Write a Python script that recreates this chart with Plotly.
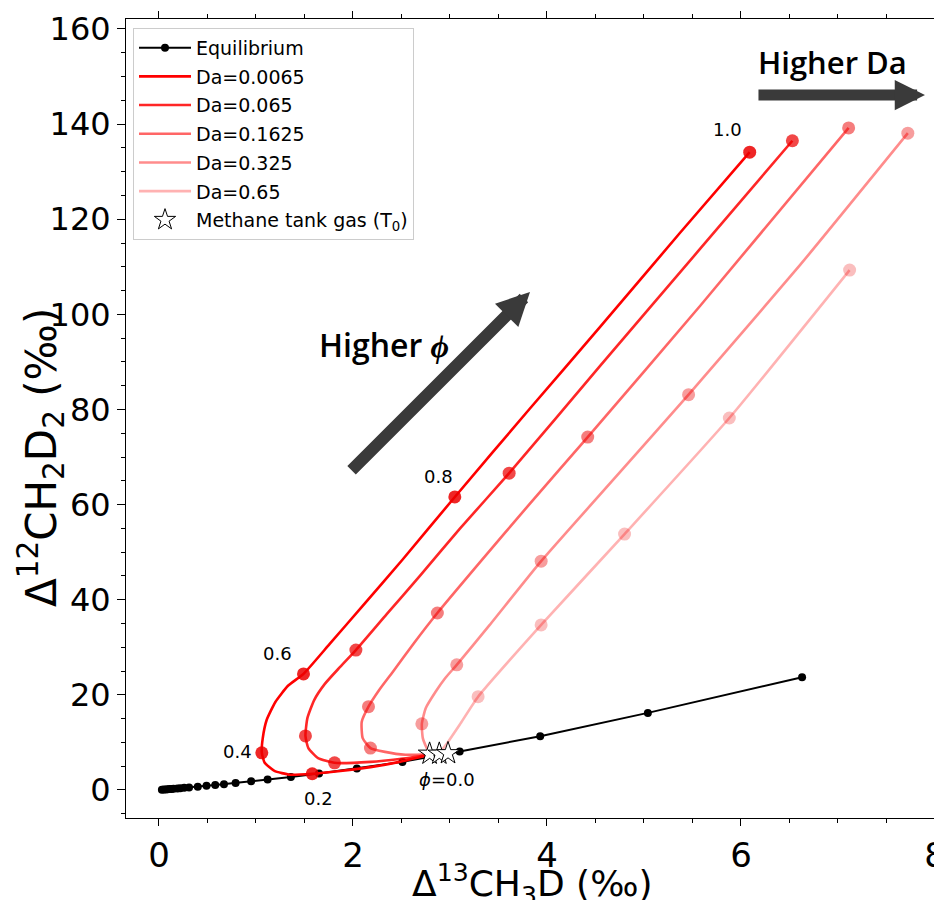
import plotly.graph_objects as go

# ---------------- data ----------------
eq_x = [0.03, 0.05, 0.07, 0.09, 0.11, 0.13, 0.15, 0.19, 0.22, 0.26, 0.31, 0.40, 0.49,
        0.58, 0.67, 0.79, 0.95, 1.12, 1.36, 1.65, 2.04, 2.51, 3.10, 3.93, 5.04, 6.63]
eq_y = [0.05, 0.08, 0.11, 0.15, 0.18, 0.21, 0.25, 0.31, 0.37, 0.44, 0.53, 0.69, 0.86,
        1.02, 1.21, 1.46, 1.81, 2.17, 2.73, 3.45, 4.5, 5.9, 8.1, 11.3, 16.2, 23.7]

da_names = ["Da=0.0065", "Da=0.065", "Da=0.1625", "Da=0.325", "Da=0.65"]

# curve paths (phi from 0 to 1)
c1_x = [2.79, 2.48, 2.18, 1.87, 1.58, 1.35, 1.19, 1.09, 1.06, 1.07, 1.11, 1.20, 1.33, 1.49,
        1.76, 2.10, 2.51, 3.05, 3.82, 4.55, 5.37, 6.09]
c1_y = [7.4, 5.9, 4.8, 4.0, 3.4, 3.2, 4.0, 5.7, 7.8, 10.9, 14.7, 18.5, 21.9, 24.4,
        30.7, 38.7, 48.4, 61.6, 80.1, 97.4, 117.1, 134.1]
c2_x = [2.79, 2.48, 2.18, 1.81, 1.64, 1.54, 1.51, 1.53, 1.60, 1.71, 1.86, 2.03, 2.35, 2.69,
        3.10, 3.61, 4.55, 5.58, 6.53]
c2_y = [7.4, 6.5, 5.9, 5.7, 6.7, 8.8, 11.35, 15.1, 18.9, 22.3, 25.7, 29.4, 37.0, 45.0,
        54.9, 66.6, 89.2, 113.8, 136.5]
c3_x = [2.79, 2.54, 2.33, 2.18, 2.10, 2.09, 2.16, 2.27, 2.41, 2.63, 2.87, 3.31, 3.82, 4.42,
        5.58, 7.11]
c3_y = [7.5, 7.4, 8.0, 8.8, 10.9, 14.3, 17.5, 21.0, 24.8, 30.9, 37.2, 47.9, 60.1, 74.2,
        101.8, 139.2]
c4_x = [2.79, 2.76, 2.72, 2.71, 2.75, 2.85, 2.95, 3.07, 3.41, 3.94, 4.70, 5.46, 6.61, 7.72]
c4_y = [7.6, 8.8, 10.9, 13.9, 17.2, 20.6, 23.5, 26.3, 34.7, 48.1, 65.6, 83.1, 110.4, 138.1]
c5_x = [2.89, 2.98, 3.10, 3.29, 3.94, 4.80, 5.88, 7.12]
c5_y = [7.7, 10.1, 13.7, 19.6, 34.7, 53.8, 78.2, 109.3]

# markers at phi = 0.2, 0.4, 0.6, 0.8, 1.0
m1_x = [1.58, 1.06, 1.49, 3.05, 6.09]
m1_y = [3.4, 7.8, 24.4, 61.6, 134.1]
m2_x = [1.81, 1.51, 2.03, 3.61, 6.53]
m2_y = [5.7, 11.35, 29.4, 66.6, 136.5]
m3_x = [2.18, 2.16, 2.87, 4.42, 7.11]
m3_y = [8.8, 17.5, 37.2, 74.2, 139.2]
m4_x = [2.71, 3.07, 3.94, 5.46, 7.72]
m4_y = [13.9, 26.3, 48.1, 83.1, 138.1]
m5_x = [3.29, 3.94, 4.80, 5.88, 7.12]
m5_y = [19.6, 34.7, 53.8, 78.2, 109.3]

star_x = [2.79, 2.89, 2.98]
star_y = [7.6, 7.6, 7.7]

phi_labels = ["1.0", "0.8", "0.6", "0.4", "0.2", "<i>ϕ</i>=0.0"]
phi_lab_x = [5.86, 2.88, 1.22, 0.81, 1.64, 2.97]
phi_lab_y = [138.8, 66.0, 28.6, 8.0, -1.9, 2.3]

# ---------------- styles ----------------
alphas = [1.0, 0.85, 0.6, 0.45, 0.3]
curves = [(c1_x, c1_y, m1_x, m1_y), (c2_x, c2_y, m2_x, m2_y), (c3_x, c3_y, m3_x, m3_y),
          (c4_x, c4_y, m4_x, m4_y), (c5_x, c5_y, m5_x, m5_y)]

fig = go.Figure()

fig.add_trace(go.Scatter(
    x=eq_x, y=eq_y, mode="lines+markers", name="Equilibrium",
    line=dict(color="black", width=2),
    marker=dict(color="black", size=8),
    legendgroup="eq"))

for i, (cx, cy, mx, my) in enumerate(curves):
    a = alphas[i]
    col = f"rgba(255,0,0,{a})"
    fig.add_trace(go.Scatter(
        x=cx, y=cy, mode="lines", name=da_names[i],
        line=dict(color=col, width=2.6, shape="spline", smoothing=0.5),
        legendgroup=f"d{i}"))
for i, (cx, cy, mx, my) in enumerate(curves):
    a = alphas[i]
    fig.add_trace(go.Scatter(
        x=mx, y=my, mode="markers", showlegend=False,
        marker=dict(color=f"rgba(235,0,0,{a*0.85})", size=13),
        legendgroup=f"d{i}"))

fig.add_trace(go.Scatter(
    x=star_x, y=star_y, mode="markers", name="Methane tank gas (T<sub>0</sub>)",
    marker=dict(symbol="star", size=17, color="white", line=dict(color="black", width=1)),
    legendgroup="star"))

for t, x, y in zip(phi_labels, phi_lab_x, phi_lab_y):
    fig.add_annotation(x=x, y=y, text=t, showarrow=False,
                       font=dict(family="DejaVu Sans", size=18, color="black"))

# arrows
arrow_col = "#3a3a3a"
fig.add_annotation(x=3.825, y=104.7, ax=1.97, ay=66.9, axref="x", ayref="y",
                   xref="x", yref="y", showarrow=True, arrowhead=2, arrowsize=0.55,
                   arrowwidth=12, arrowcolor=arrow_col, text="")
fig.add_annotation(x=7.897, y=146.1, ax=6.165, ay=146.1, axref="x", ayref="y",
                   xref="x", yref="y", showarrow=True, arrowhead=2, arrowsize=0.55,
                   arrowwidth=11, arrowcolor=arrow_col, text="")
fig.add_annotation(x=2.32, y=93.6, text="Higher <i>ϕ</i>", showarrow=False,
                   font=dict(family="Open Sans", size=32, color="black", weight=600))
fig.add_annotation(x=6.94, y=153.1, text="Higher Da", showarrow=False,
                   font=dict(family="Open Sans", size=31, color="black", weight=600))

# axis titles (placed as annotations in plot-area pixel terms via paper coords)
PW = 824.0  # plot-area width in px
fig.add_annotation(xref="paper", yref="paper", x=-85.0 / PW, y=0.4506,
                   text="Δ<sup>12</sup>CH<sub>2</sub>D<sub>2</sub> (‰)", textangle=-90,
                   showarrow=False, xanchor="center", yanchor="middle",
                   font=dict(family="DejaVu Sans", size=42, color="black"))
fig.add_annotation(xref="paper", yref="paper", x=406.0 / PW, y=-0.0826,
                   text="Δ<sup>13</sup>CH<sub>3</sub>D (‰)",
                   showarrow=False, xanchor="center", yanchor="middle",
                   font=dict(family="DejaVu Sans", size=36, color="black"))

fig.update_layout(
    width=942, height=892,
    margin=dict(l=118, r=0, t=11, b=82, autoexpand=False),
    plot_bgcolor="white", paper_bgcolor="white",
    font=dict(family="DejaVu Sans", color="black"),
    showlegend=True,
    legend=dict(x=7.0 / PW, y=0.989, xanchor="left", yanchor="top",
                bgcolor="rgba(255,255,255,0.8)", bordercolor="#cccccc", borderwidth=1,
                font=dict(size=19, family="DejaVu Sans"), tracegroupgap=1,
                itemwidth=52),
)
fig.update_xaxes(
    range=[-0.34, 8.155], showgrid=False, zeroline=False, automargin=False,
    showline=True, linecolor="black", linewidth=1, mirror="ticks",
    ticks="outside", ticklen=7, tickwidth=1.2, tickcolor="black",
    dtick=2, tick0=0, tickfont=dict(size=34), ticklabeloverflow="allow",
    minor=dict(dtick=0.5, ticks="outside", ticklen=4, tickcolor="black"),
)
fig.update_yaxes(
    range=[-5.9, 162.1], showgrid=False, zeroline=False, automargin=False,
    showline=True, linecolor="black", linewidth=1,
    ticks="outside", ticklen=8, tickwidth=1.2, tickcolor="black",
    dtick=20, tick0=0, tickfont=dict(size=32),
    minor=dict(dtick=5, ticks="outside", ticklen=4, tickcolor="black"),
)

fig.write_html("out.html")
